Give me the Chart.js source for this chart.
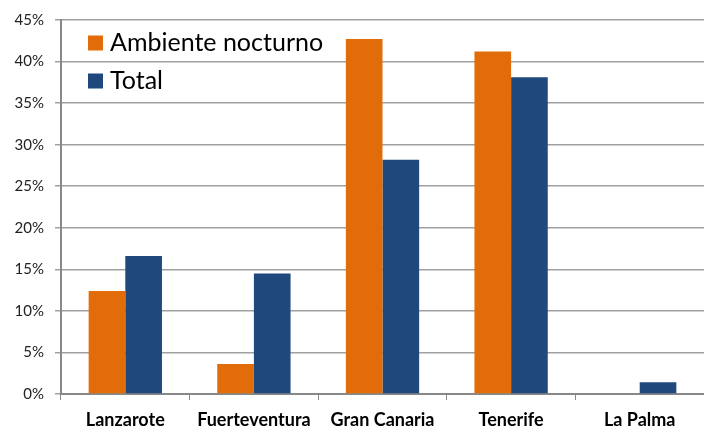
<!DOCTYPE html>
<html>
<head>
<meta charset="utf-8">
<script src="https://cdn.jsdelivr.net/npm/chart.js@4"></script>
<style>
  html, body { margin: 0; padding: 0; background: #fff; }
  #wrap { width: 704px; height: 427px; }
</style>
</head>
<body>
<div id="wrap"><canvas id="c"></canvas></div>
<script>
// islas y porcentajes
const islas = ['Lanzarote', 'Fuerteventura', 'Gran Canaria', 'Tenerife', 'La Palma'];
const ambienteNocturno = [12.4, 3.6, 42.7, 41.2, 0];
const total = [16.6, 14.5, 28.2, 38.1, 1.4];
const yTicks = [0, 5, 10, 15, 20, 25, 30, 35, 40, 45];

const FONT = 'Lato, "Open Sans", sans-serif';

// leyenda dentro del área del gráfico, arriba a la izquierda
const insideLegend = {
  id: 'insideLegend',
  afterDraw(chart) {
    const { ctx, chartArea } = chart;
    ctx.save();
    ctx.font = '25px ' + FONT;
    ctx.textBaseline = 'middle';
    ctx.textAlign = 'left';
    chart.data.datasets.forEach((ds, i) => {
      const x = chartArea.left + 27;
      const y = chartArea.top + 23 + i * 38;
      ctx.fillStyle = ds.backgroundColor;
      ctx.fillRect(x, y - 7.5, 15, 15);
      ctx.fillStyle = '#000';
      ctx.fillText(ds.label, x + 22, y);
    });
    ctx.restore();
  },
};

new Chart(document.getElementById('c'), {
  type: 'bar',
  data: {
    labels: islas,
    datasets: [
      { label: 'Ambiente nocturno', data: ambienteNocturno, backgroundColor: '#E36C0A',
        barPercentage: 1, categoryPercentage: 0.57 },
      { label: 'Total', data: total, backgroundColor: '#1F497D',
        barPercentage: 1, categoryPercentage: 0.57 },
    ],
  },
  plugins: [insideLegend],
  options: {
    responsive: true,
    maintainAspectRatio: false,
    animation: false,
    layout: { padding: { top: 12, right: 0, left: 0, bottom: 0 } },
    plugins: {
      legend: { display: false },
      tooltip: { enabled: false },
    },
    scales: {
      x: {
        afterFit: (s) => { s.height = 33; },
        grid: { drawOnChartArea: false, drawTicks: true, tickLength: 6, color: '#888' },
        border: { color: '#888', width: 2 },
        ticks: { color: '#000', font: { family: FONT, size: 18, weight: 'bold' }, padding: 9 },
      },
      y: {
        min: 0,
        max: 45,
        afterFit: (s) => { s.width = 61; },
        afterBuildTicks: (s) => { s.ticks = yTicks.map((v) => ({ value: v })); },
        grid: { color: '#A0A0A0', lineWidth: 1.5, tickLength: 6 },
        border: { color: '#888', width: 2 },
        ticks: {
          color: '#222',
          font: { family: FONT, size: 15 },
          padding: 11,
          callback: (v) => v + '%',
        },
      },
    },
  },
});
</script>
</body>
</html>
